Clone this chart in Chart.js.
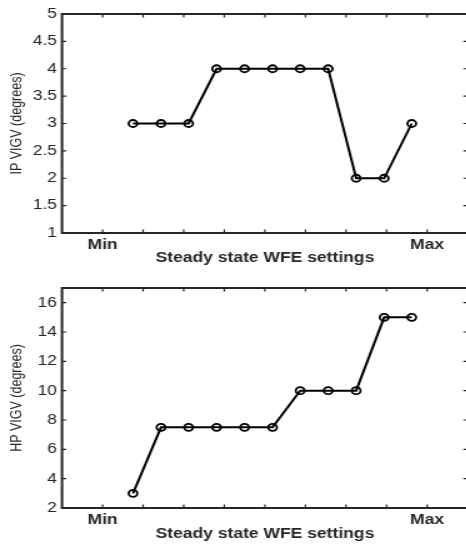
<!DOCTYPE html>
<html>
<head>
<meta charset="utf-8">
<script src="https://cdn.jsdelivr.net/npm/chart.js@4.4.1/dist/chart.umd.min.js"></script>
<style>
html, body { margin: 0; padding: 0; background: #fff; overflow: hidden; width: 466px; height: 544px; }
/* the source figure is stretched sideways, so draw narrow and widen */
.box { position: absolute; left: 0; width: 380px; transform: scaleX(1.25); transform-origin: 0 0; }
</style>
</head>
<body>
<div class="box" style="top:0;height:270px"><canvas id="ip"></canvas></div>
<div class="box" style="top:270px;height:274px"><canvas id="hp"></canvas></div>
<script>
// WFE setting positions, in tick units (Min = 1, Max = 9)
var settingX = [1.75, 2.44, 3.12, 3.81, 4.5, 5.19, 5.87, 6.56, 7.25, 7.94, 8.62];
var ipVigv = [3, 3, 3, 4, 4, 4, 4, 4, 2, 2, 3];
var hpVigv = [3, 7.5, 7.5, 7.5, 7.5, 7.5, 10, 10, 10, 15, 15];

var xTicks = [1, 2, 3, 4, 5, 6, 7, 8, 9];
var xTickLabels = { 1: 'Min', 9: 'Max' };
var ipTicks = [1, 1.5, 2, 2.5, 3, 3.5, 4, 4.5, 5];
var hpTicks = [2, 4, 6, 8, 10, 12, 14, 16];

var FONT = "'Liberation Sans', Arial, sans-serif";
var INK = '#262626';

// matlab style box: frame + inward tick marks
var matlabBox = {
    id: 'matlabBox',
    beforeDatasetsDraw: function(chart) {
        var a = chart.chartArea, c = chart.ctx, t = 3.5;
        var sx = chart.scales.x, sy = chart.scales.y;
        c.save();
        c.strokeStyle = INK;
        c.lineWidth = 1.2;
        c.beginPath();
        sx.ticks.forEach(function(tk) {
            var px = sx.getPixelForValue(tk.value);
            c.moveTo(px, a.bottom); c.lineTo(px, a.bottom - t);
            c.moveTo(px, a.top); c.lineTo(px, a.top + t);
        });
        sy.ticks.forEach(function(tk) {
            var py = sy.getPixelForValue(tk.value);
            c.moveTo(a.left, py); c.lineTo(a.left + t, py);
            c.moveTo(a.right, py); c.lineTo(a.right - t, py);
        });
        c.stroke();
        c.lineWidth = 2;
        c.beginPath();
        c.moveTo(a.right, a.top);
        c.lineTo(a.left, a.top);
        c.lineTo(a.left, a.bottom);
        c.lineTo(a.right, a.bottom);
        c.stroke();
        c.restore();
    }
};

function makeChart(id, yValues, yTicks, yMin, yMax, yTitle, axisH, topPad, titlePad) {
    var ctx = document.getElementById(id).getContext('2d');
    return new Chart(ctx, {
        type: 'line',
        data: {
            datasets: [{
                data: settingX.map(function(x, i) { return { x: x, y: yValues[i] }; }),
                borderColor: '#000',
                borderWidth: 2,
                pointRadius: 3.5,
                pointBorderWidth: 1.8,
                pointBorderColor: '#000',
                pointBackgroundColor: 'rgba(0,0,0,0)',
                tension: 0
            }]
        },
        options: {
            responsive: true,
            maintainAspectRatio: false,
            animation: false,
            layout: { padding: { top: topPad, right: 0, left: 0, bottom: 0 } },
            plugins: { legend: { display: false }, tooltip: { enabled: false } },
            scales: {
                x: {
                    type: 'linear',
                    min: 0,
                    max: 10,
                    afterBuildTicks: function(s) { s.ticks = xTicks.map(function(v) { return { value: v }; }); },
                    afterFit: function(s) { s.height = axisH; },
                    grid: { display: false, drawTicks: false },
                    border: { display: false },
                    ticks: {
                        autoSkip: false,
                        maxRotation: 0,
                        padding: 4,
                        color: INK,
                        font: { family: FONT, size: 14, weight: 'bold' },
                        callback: function(v) { return xTickLabels[v] || ''; }
                    },
                    title: {
                        display: true,
                        text: 'Steady state WFE settings',
                        color: INK,
                        font: { family: FONT, size: 14, weight: 'bold' },
                        padding: { top: 0, bottom: titlePad }
                    }
                },
                y: {
                    min: yMin,
                    max: yMax,
                    afterBuildTicks: function(s) { s.ticks = yTicks.map(function(v) { return { value: v }; }); },
                    afterFit: function(s) { s.width = 49.6; },
                    grid: { display: false, drawTicks: false },
                    border: { display: false },
                    ticks: {
                        padding: 4,
                        color: INK,
                        font: { family: FONT, size: 14 },
                        callback: function(v) { return String(v); }
                    },
                    title: {
                        display: true,
                        text: yTitle,
                        color: INK,
                        font: { family: FONT, size: 12.5 },
                        padding: { top: 6, bottom: 0 }
                    }
                }
            }
        },
        plugins: [matlabBox]
    });
}

makeChart('ip', ipVigv, ipTicks, 1, 5, 'IP VIGV (degrees)', 37, 14, 3.6);
makeChart('hp', hpVigv, hpTicks, 2, 17, 'HP VIGV (degrees)', 36, 18, 1.6);
</script>
</body>
</html>
